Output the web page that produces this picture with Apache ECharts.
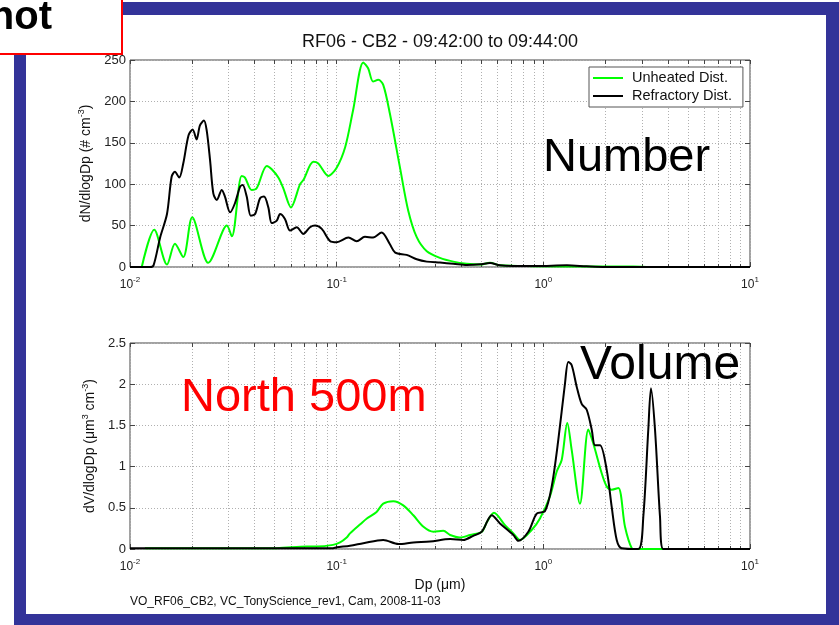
<!DOCTYPE html>
<html>
<head>
<meta charset="utf-8">
<script src="https://cdn.jsdelivr.net/npm/echarts@6/dist/echarts.min.js"></script>
<style>
  html, body { margin: 0; padding: 0; background: #fff; }
  #chart { width: 839px; height: 625px; }
</style>
</head>
<body>
<div id="chart"></div>
<script>
// Size distributions, RF06 - CB2, 09:42:00 to 09:44:00
// Number distribution (dN/dlogDp, # cm^-3) vs particle diameter Dp (um)
const dpUnheatedN = [0.0114, 0.0131, 0.0151, 0.0165, 0.0181, 0.0200, 0.0239, 0.0283, 0.0294, 0.0311,
  0.0347, 0.0360, 0.0388, 0.0410, 0.0459, 0.0485, 0.0522, 0.0552, 0.0601, 0.0665,
  0.0690, 0.0771, 0.0815, 0.0911, 0.100, 0.110, 0.120, 0.1345, 0.142, 0.150,
  0.159, 0.168, 0.181, 0.2025, 0.222, 0.244, 0.273, 0.316, 0.367, 0.426,
  0.494, 0.552, 0.617, 0.891, 1.88, 2.72, 3.28, 10];
const dNUnheated = [0, 45, 3, 28, 12, 60, 5, 45, 50, 37,
  110, 108, 93, 95, 122, 118, 108, 95, 72, 100,
  105, 127, 125, 110, 120, 145, 189, 247, 240, 224,
  226, 220, 185, 120, 68, 36, 19, 11, 6.5, 4,
  3, 5, 2, 1, 0.5, 0.5, 0, 0];

const dpRefractoryN = [0.01, 0.0125, 0.0130, 0.0140, 0.0151, 0.0159, 0.0165, 0.0173, 0.0181, 0.0192,
  0.0201, 0.0210, 0.0218, 0.0228, 0.0235, 0.0244, 0.0253, 0.0263, 0.0278, 0.0288,
  0.0305, 0.0322, 0.0341, 0.0351, 0.0367, 0.0384, 0.0403, 0.0426, 0.0445, 0.0467,
  0.0485, 0.0513, 0.0532, 0.0562, 0.0595, 0.0641, 0.0690, 0.0743, 0.0786, 0.0847,
  0.0928, 0.100, 0.114, 0.125, 0.137, 0.150, 0.165, 0.181, 0.192, 0.218,
  0.244, 0.273, 0.316, 0.367, 0.426, 0.494, 0.552, 0.617, 0.716, 0.928,
  1.30, 1.62, 1.99, 10];
const dNRefractory = [0, 0, 2, 36, 64, 109, 115, 108, 125, 159,
  166, 154, 171, 177, 165, 129, 89, 81, 93, 85,
  66, 77, 97, 99, 85, 62, 64, 83, 85, 72,
  53, 56, 64, 58, 44, 48, 40, 48, 50, 46,
  31.5, 30, 35.6, 31, 36.4, 35.6, 41.7, 27.5, 17.4, 14.6,
  9.3, 6.5, 5.3, 4, 2.4, 3.2, 4.9, 2, 1.2, 1.2,
  2, 0.8, 0, 0];

// Volume distribution (dV/dlogDp, um^3 cm^-3)
const dpUnheatedV = [0.0118, 0.0513, 0.0716, 0.0801, 0.0960, 0.1038, 0.1118, 0.116, 0.130, 0.140,
  0.156, 0.168, 0.188, 0.210, 0.235, 0.263, 0.294, 0.328, 0.354, 0.395,
  0.442, 0.504, 0.534, 0.577, 0.652, 0.716, 0.771, 0.878, 0.963, 1.077,
  1.161, 1.227, 1.306, 1.372, 1.504, 1.651, 1.745, 1.916, 2.026, 2.142,
  2.306, 2.484, 2.677, 2.78, 10];
const dVUnheated = [0.01, 0.01, 0.03, 0.03, 0.05, 0.08, 0.14, 0.19, 0.30, 0.37,
  0.45, 0.55, 0.58, 0.53, 0.41, 0.27, 0.21, 0.22, 0.17, 0.14,
  0.17, 0.21, 0.33, 0.44, 0.29, 0.19, 0.11, 0.23, 0.37, 0.64,
  0.94, 1.08, 1.53, 1.20, 0.55, 1.45, 1.28, 0.92, 0.76, 0.72,
  0.74, 0.27, 0.01, 0, 0];

const dpRefractoryV = [0.01, 0.096, 0.100, 0.116, 0.1345, 0.168, 0.199, 0.235, 0.283, 0.354,
  0.410, 0.458, 0.504, 0.563, 0.617, 0.716, 0.757, 0.846, 0.929, 1.019,
  1.098, 1.181, 1.273, 1.321, 1.372, 1.450, 1.533, 1.621, 1.714, 1.778,
  1.880, 2.026, 2.142, 2.265, 2.394, 2.880, 3.046, 3.220, 3.318, 3.470,
  3.669, 3.806, 10];
const dVRefractory = [0.01, 0.01, 0.02, 0.04, 0.07, 0.11, 0.06, 0.08, 0.09, 0.12,
  0.11, 0.16, 0.21, 0.41, 0.31, 0.17, 0.10, 0.21, 0.43, 0.46,
  0.76, 1.32, 2.01, 2.27, 2.23, 1.97, 1.76, 1.69, 1.45, 1.26,
  1.26, 0.96, 0.51, 0.11, 0.01, 0, 0.39, 1.45, 1.95, 1.45,
  0.39, 0, 0];

// Axis ticks
const decadeTicks = [0.01, 0.1, 1, 10];
const minorTicks = [0.02, 0.03, 0.04, 0.05, 0.06, 0.07, 0.08, 0.09,
  0.2, 0.3, 0.4, 0.5, 0.6, 0.7, 0.8, 0.9,
  2, 3, 4, 5, 6, 7, 8, 9];
const seriesNames = ['Unheated Dist.', 'Refractory Dist.'];
const seriesColors = ['#00ff00', '#000000'];

const FONT = '"Liberation Sans", Arial, Helvetica, sans-serif';
const gridLineStyle = { type: [1, 2], color: '#b0b0b0', width: 1 };
const tickStyle = { color: '#444', width: 1 };

function pairs(xs, ys) { return xs.map((x, i) => [x, ys[i]]); }

function decadeLabel(v) {
  const e = Math.round(Math.log10(v));
  return '{b|10}{s|' + e + '}';
}

function makeXAxes(gridIndex, nameText) {
  const base = { gridIndex, type: 'log', logBase: 10, min: 0.01, max: 10, axisLine: { show: false } };
  return [
    Object.assign({}, base, {
      position: 'bottom',
      axisTick: { show: true, inside: true, length: 5, customValues: decadeTicks, lineStyle: tickStyle },
      axisLabel: {
        customValues: decadeTicks, margin: 9, formatter: decadeLabel, fontFamily: FONT,
        rich: {
          b: { fontSize: 12, color: '#222', fontFamily: FONT },
          s: { fontSize: 8, color: '#222', fontFamily: FONT, padding: [0, 0, 9, 0] }
        }
      },
      splitLine: { show: true, lineStyle: gridLineStyle },
      name: nameText || '',
      nameLocation: 'middle',
      nameGap: 29,
      nameTextStyle: { fontSize: 14, color: '#111', fontFamily: FONT }
    }),
    Object.assign({}, base, {
      position: 'bottom',
      axisTick: { show: true, inside: true, length: 3, customValues: minorTicks, lineStyle: tickStyle },
      axisLabel: { show: false },
      splitLine: { show: true, lineStyle: gridLineStyle }
    }),
    Object.assign({}, base, {
      position: 'top',
      axisTick: { show: true, inside: true, length: 4, customValues: decadeTicks.concat(minorTicks), lineStyle: tickStyle },
      axisLabel: { show: false },
      splitLine: { show: false }
    })
  ];
}

function makeYAxes(gridIndex, max, interval, nameRich, nameGap) {
  return [
    {
      gridIndex, type: 'value', min: 0, max, interval, position: 'left',
      axisLine: { show: false },
      axisTick: { show: true, inside: true, length: 5, lineStyle: tickStyle },
      axisLabel: { fontSize: 13, color: '#222', margin: 4, fontFamily: FONT },
      splitLine: { show: true, lineStyle: gridLineStyle },
      name: nameRich, nameLocation: 'middle', nameGap,
      nameTextStyle: {
        fontFamily: FONT, color: '#111',
        rich: {
          a: { fontSize: 14, color: '#111', fontFamily: FONT },
          s: { fontSize: 9, color: '#111', fontFamily: FONT, padding: [0, 0, 9, 0] }
        }
      }
    },
    {
      gridIndex, type: 'value', min: 0, max, interval, position: 'right',
      axisLine: { show: false },
      axisTick: { show: true, inside: true, length: 5, lineStyle: tickStyle },
      axisLabel: { show: false },
      splitLine: { show: false }
    }
  ];
}

function lineSeries(name, color, data, xIndex, yIndex, z) {
  return {
    name, type: 'line', data, xAxisIndex: xIndex, yAxisIndex: yIndex,
    color, symbol: 'none', showSymbol: false, smooth: 0.3, z,
    lineStyle: { color, width: 2 },
    itemStyle: { color },
    animation: false
  };
}

const chart = echarts.init(document.getElementById('chart'), null, { renderer: 'canvas' });

const gridBox = { show: true, borderColor: '#444', borderWidth: 1, backgroundColor: '#fff', containLabel: false, outerBoundsMode: 'none' };

chart.setOption({
  animation: false,
  backgroundColor: '#fff',
  textStyle: { fontFamily: FONT },
  grid: [
    Object.assign({ left: 130, right: 89, top: 60, height: 207 }, gridBox),
    Object.assign({ left: 130, right: 89, top: 343, height: 206 }, gridBox)
  ],
  xAxis: makeXAxes(0, '').concat(makeXAxes(1, 'Dp (μm)')),
  yAxis: makeYAxes(0, 250, 50, '{a|dN/dlogDp (# cm}{s|-3}{a|)}', 35)
    .concat(makeYAxes(1, 2.5, 0.5, '{a|dV/dlogDp (μm}{s|3}{a| cm}{s|-3}{a|)}', 28)),
  legend: {
    data: seriesNames,
    orient: 'vertical',
    left: 589, top: 67,
    padding: [3, 11, 3, 4],
    itemGap: 2,
    itemWidth: 30, itemHeight: 2,
    icon: 'rect',
    selectedMode: false,
    backgroundColor: '#fff',
    borderColor: '#555', borderWidth: 1, borderRadius: 0,
    textStyle: { fontSize: 14.5, lineHeight: 16, color: '#111', fontFamily: FONT, padding: [0, 0, 0, 4] }
  },
  series: [
    lineSeries(seriesNames[0], seriesColors[0], pairs(dpUnheatedN, dNUnheated), 0, 0, 3),
    lineSeries(seriesNames[1], seriesColors[1], pairs(dpRefractoryN, dNRefractory), 0, 0, 4),
    lineSeries(seriesNames[0], seriesColors[0], pairs(dpUnheatedV, dVUnheated), 3, 2, 3),
    lineSeries(seriesNames[1], seriesColors[1], pairs(dpRefractoryV, dVRefractory), 3, 2, 4)
  ],
  graphic: [
    // slide frame
    { type: 'rect', silent: true, z: 0, shape: { x: 0, y: 2, width: 839, height: 13 }, style: { fill: '#333399' } },
    { type: 'rect', silent: true, z: 0, shape: { x: 826, y: 2, width: 13, height: 623 }, style: { fill: '#333399' } },
    { type: 'rect', silent: true, z: 0, shape: { x: 14, y: 2, width: 12, height: 623 }, style: { fill: '#333399' } },
    { type: 'rect', silent: true, z: 0, shape: { x: 14, y: 614, width: 825, height: 11 }, style: { fill: '#333399' } },
    { type: 'rect', silent: true, z: 1, shape: { x: -4, y: -4, width: 126, height: 58 }, style: { fill: '#fff', stroke: '#ff0000', lineWidth: 2 } },
    { type: 'text', silent: true, z: 2, x: 52, y: 18, style: { text: 'hot', fontSize: 40, fontWeight: 'bold', fontFamily: FONT, fill: '#000', align: 'right', verticalAlign: 'middle' } },
    // plot title
    { type: 'text', silent: true, z: 100, x: 440, y: 42, style: { text: 'RF06 - CB2 - 09:42:00 to 09:44:00', fontSize: 18, fontFamily: FONT, fill: '#111', align: 'center', verticalAlign: 'middle' } },
    // panel annotations
    { type: 'text', silent: true, z: 100, x: 543, y: 158, style: { text: 'Number', fontSize: 47, fontFamily: FONT, fill: '#000', align: 'left', verticalAlign: 'middle' } },
    { type: 'text', silent: true, z: 100, x: 580, y: 366, style: { text: 'Volume', fontSize: 48, fontFamily: FONT, fill: '#000', align: 'left', verticalAlign: 'middle' } },
    { type: 'text', silent: true, z: 100, x: 181, y: 398, style: { text: 'North 500m', fontSize: 47, fontFamily: FONT, fill: '#ff0000', align: 'left', verticalAlign: 'middle' } },
    // file stamp
    { type: 'text', silent: true, z: 100, x: 130, y: 602, style: { text: 'VO_RF06_CB2, VC_TonyScience_rev1, Cam, 2008-11-03', fontSize: 12, fontFamily: FONT, fill: '#111', align: 'left', verticalAlign: 'middle' } }
  ]
});
</script>
</body>
</html>
